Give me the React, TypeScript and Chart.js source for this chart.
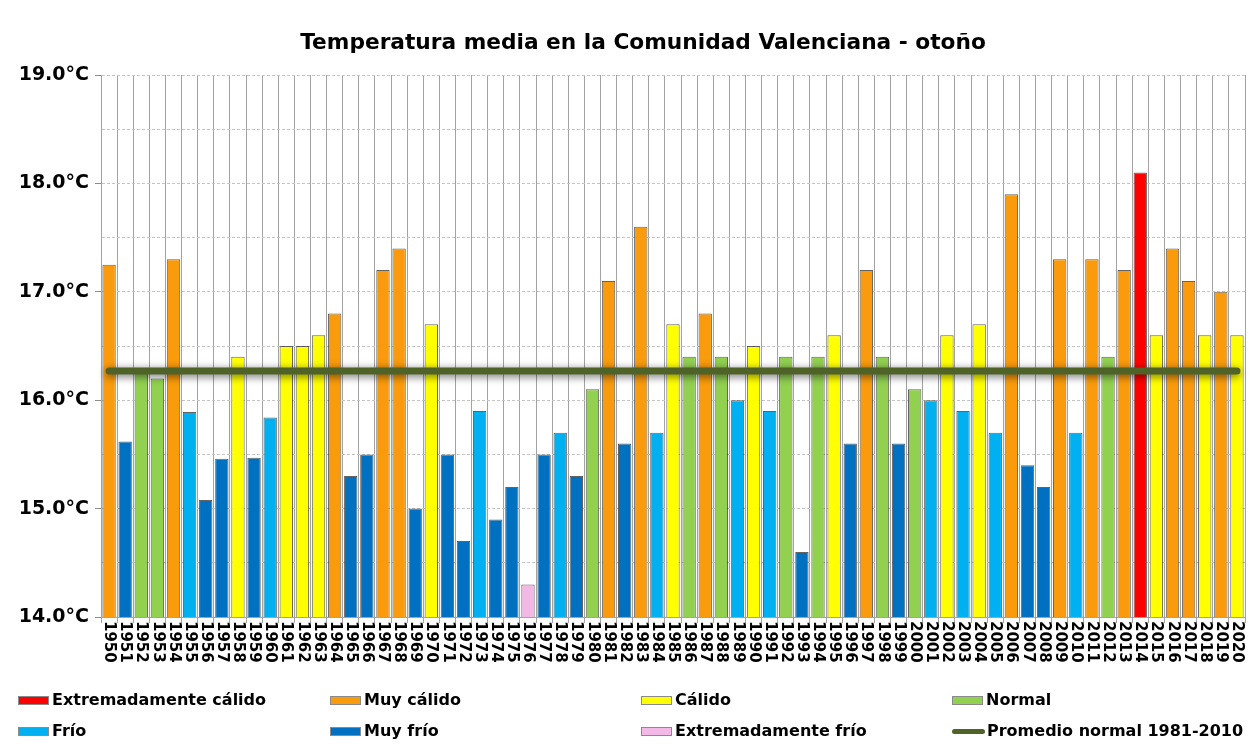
import React, { useEffect, useRef } from 'react';
import { Chart, registerables } from 'chart.js';

Chart.register(...registerables);

const years = [
  '1950', '1951', '1952', '1953', '1954', '1955', '1956', '1957', '1958', '1959',
  '1960', '1961', '1962', '1963', '1964', '1965', '1966', '1967', '1968', '1969',
  '1970', '1971', '1972', '1973', '1974', '1975', '1976', '1977', '1978', '1979',
  '1980', '1981', '1982', '1983', '1984', '1985', '1986', '1987', '1988', '1989',
  '1990', '1991', '1992', '1993', '1994', '1995', '1996', '1997', '1998', '1999',
  '2000', '2001', '2002', '2003', '2004', '2005', '2006', '2007', '2008', '2009',
  '2010', '2011', '2012', '2013', '2014', '2015', '2016', '2017', '2018', '2019',
  '2020',
];

const temps = [
  17.25, 15.62, 16.25, 16.2, 17.3, 15.89, 15.08, 15.46, 16.4, 15.47,
  15.84, 16.5, 16.5, 16.6, 16.8, 15.3, 15.5, 17.2, 17.4, 15.0,
  16.7, 15.5, 14.7, 15.9, 14.9, 15.2, 14.3, 15.5, 15.7, 15.3,
  16.1, 17.1, 15.6, 17.6, 15.7, 16.7, 16.4, 16.8, 16.4, 16.0,
  16.5, 15.9, 16.4, 14.6, 16.4, 16.6, 15.6, 17.2, 16.4, 15.6,
  16.1, 16.0, 16.6, 15.9, 16.7, 15.7, 17.9, 15.4, 15.2, 17.3,
  15.7, 17.3, 16.4, 17.2, 18.1, 16.6, 17.4, 17.1, 16.6, 17.0,
  16.6,
];

// EC: extremadamente cálido, MC: muy cálido, C: cálido, N: normal,
// F: frío, MF: muy frío, EF: extremadamente frío
const classes = [
  'MC', 'MF', 'N', 'N', 'MC', 'F', 'MF', 'MF', 'C', 'MF',
  'F', 'C', 'C', 'C', 'MC', 'MF', 'MF', 'MC', 'MC', 'MF',
  'C', 'MF', 'MF', 'F', 'MF', 'MF', 'EF', 'MF', 'F', 'MF',
  'N', 'MC', 'MF', 'MC', 'F', 'C', 'N', 'MC', 'N', 'F',
  'C', 'F', 'N', 'MF', 'N', 'C', 'MF', 'MC', 'N', 'MF',
  'N', 'F', 'C', 'F', 'C', 'F', 'MC', 'MF', 'MF', 'MC',
  'F', 'MC', 'N', 'MC', 'EC', 'C', 'MC', 'MC', 'C', 'MC',
  'C',
];

const classKeys = ['EC', 'MC', 'C', 'N', 'F', 'MF', 'EF'];
const classLabels = [
  'Extremadamente cálido', 'Muy cálido', 'Cálido', 'Normal',
  'Frío', 'Muy frío', 'Extremadamente frío',
];
const classColors = ['#ff0000', '#f99b0c', '#ffff00', '#92d050', '#00b0f0', '#0070c0', '#f3b9e6'];

const normalValue = 16.27;
const normalLabel = 'Promedio normal 1981-2010';
const yMin = 14;
const yMax = 19;
const yStep = 0.5;

const titleText = 'Temperatura media en la Comunidad Valenciana - otoño';
const FONT = "'DejaVu Sans', Verdana, sans-serif";
const LINE_COLOR = '#4f6228';

const colorFor = (c: string) => classColors[classKeys.indexOf(c)];

export default function App() {
  const canvasRef = useRef<HTMLCanvasElement | null>(null);

  useEffect(() => {
    if (!canvasRef.current) return;

    const titlePlugin = {
      id: 'customTitle',
      afterDraw(chart: any) {
        const ctx = chart.ctx;
        ctx.save();
        ctx.font = `bold 21.7px ${FONT}`;
        ctx.fillStyle = '#000';
        ctx.textAlign = 'center';
        ctx.textBaseline = 'middle';
        ctx.fillText(titleText, 643, 43);
        ctx.restore();
      },
    };

    const xLabelPlugin = {
      id: 'rotatedXLabels',
      afterDraw(chart: any) {
        const ctx = chart.ctx;
        const xs = chart.scales.x;
        const top = chart.chartArea.bottom + 4;
        ctx.save();
        ctx.font = `bold 15px ${FONT}`;
        ctx.fillStyle = '#000';
        ctx.textAlign = 'left';
        ctx.textBaseline = 'middle';
        years.forEach((y, i) => {
          const x = xs.getPixelForValue(i);
          ctx.save();
          ctx.translate(x, top);
          ctx.rotate(Math.PI / 2);
          ctx.fillText(y, 0, 0);
          ctx.restore();
        });
        ctx.restore();
      },
    };

    const shadowPlugin = {
      id: 'lineShadow',
      beforeDatasetDraw(chart: any, args: any) {
        if (args.index === 0) {
          const ctx = chart.ctx;
          ctx.save();
          ctx.shadowColor = 'rgba(0,0,0,0.6)';
          ctx.shadowBlur = 8;
          ctx.shadowOffsetX = 0;
          ctx.shadowOffsetY = 2;
        }
      },
      afterDatasetDraw(chart: any, args: any) {
        if (args.index === 0) {
          chart.ctx.restore();
        }
      },
    };

    const chart = new Chart(canvasRef.current, {
      type: 'bar',
      data: {
        labels: years,
        datasets: [
          {
            type: 'line',
            label: normalLabel,
            data: [
              { x: years[0], y: normalValue },
              { x: years[years.length - 1], y: normalValue },
            ] as any,
            borderColor: LINE_COLOR,
            borderWidth: 7,
            borderCapStyle: 'round',
            pointRadius: 0,
            fill: false,
            order: 0,
          } as any,
          {
            type: 'bar',
            label: 'Temperatura',
            data: temps,
            backgroundColor: classes.map(colorFor),
            borderColor: 'rgba(60,60,60,0.8)',
            borderWidth: 1,
            categoryPercentage: 1,
            barPercentage: 0.83,
            order: 1,
          } as any,
        ],
      },
      options: {
        animation: false,
        responsive: false,
        devicePixelRatio: 1,
        layout: { padding: { top: 75, right: 12, left: 0, bottom: 0 } },
        plugins: {
          legend: { display: false },
          title: { display: false },
          tooltip: { enabled: false },
        },
        scales: {
          x: {
            type: 'category',
            offset: true,
            grid: {
              offset: true,
              color: '#a3a3a3',
              lineWidth: 1,
              drawTicks: true,
              tickLength: 6,
              tickColor: '#a3a3a3',
            },
            border: { display: true, color: '#a3a3a3' },
            ticks: { display: false },
            afterFit(scale: any) {
              scale.height = 129;
            },
          },
          y: {
            type: 'linear',
            min: yMin,
            max: yMax,
            ticks: {
              stepSize: yStep,
              autoSkip: false,
              padding: 6,
              color: '#000',
              font: { family: FONT, size: 19, weight: 'bold' },
              callback: (v: any) => (Number.isInteger(Number(v)) ? Number(v).toFixed(1) + '°C' : ''),
            },
            grid: {
              color: '#c4c4c4',
              lineWidth: 1,
              tickLength: 6,
              tickColor: (ctx: any) => (ctx.tick && Number.isInteger(ctx.tick.value) ? '#8c8c8c' : 'rgba(0,0,0,0)'),
            },
            border: { display: true, color: '#a3a3a3', dash: [3, 2] },
            afterFit(scale: any) {
              scale.width = 101;
            },
          },
        },
      },
      plugins: [titlePlugin, xLabelPlugin, shadowPlugin],
    });

    return () => chart.destroy();
  }, []);

  const legendCols = [18, 330, 641, 952];
  const legendRows = [692, 723];
  const legendItems = [
    ...classKeys.map((k, i) => ({ label: classLabels[i], color: classColors[i], line: false })),
    { label: normalLabel, color: LINE_COLOR, line: true },
  ];

  return (
    <div style={{ position: 'fixed', left: 0, top: 0, width: 1257, height: 746, background: '#fff', overflow: 'hidden' }}>
      <canvas ref={canvasRef} width={1257} height={746} style={{ width: 1257, height: 746, display: 'block' }} />
      {legendItems.map((it, i) => {
        const col = i % 4;
        const row = Math.floor(i / 4);
        const left = legendCols[col];
        const top = legendRows[row];
        return (
          <div key={it.label} style={{ position: 'absolute', left, top, height: 16, display: 'flex', alignItems: 'center' }}>
            {it.line ? (
              <div style={{ width: 33, height: 5, borderRadius: 3, background: it.color, marginRight: 2 }} />
            ) : (
              <div style={{ width: 29, height: 7, background: it.color, border: '1px solid #8a8a8a', marginRight: 3 }} />
            )}
            <span style={{ font: `bold 16px ${FONT}`, lineHeight: '16px', color: '#000', whiteSpace: 'nowrap' }}>{it.label}</span>
          </div>
        );
      })}
    </div>
  );
}
